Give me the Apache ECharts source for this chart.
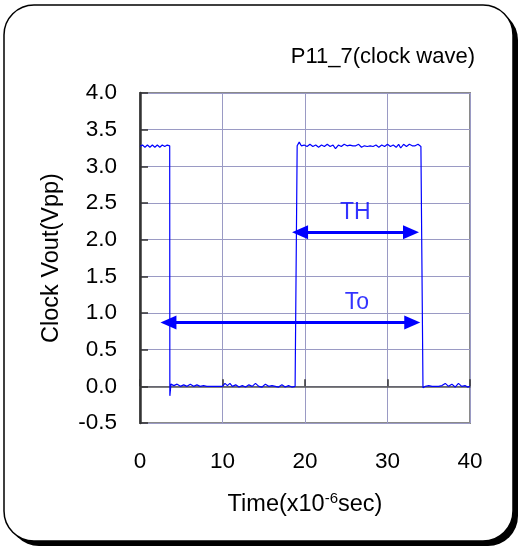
<!DOCTYPE html>
<html>
<head>
<meta charset="utf-8">
<script src="https://cdn.jsdelivr.net/npm/echarts@6/dist/echarts.min.js"></script>
<style>
  html, body { margin: 0; padding: 0; background: #fff; }
  #chart { width: 520px; height: 552px; }
</style>
</head>
<body>
<div id="chart"></div>
<script>
// waveform (time in us, volts)
var timeUs = [
  0, 0.3, 0.6, 0.9, 1.2, 1.5, 1.8, 2.1, 2.4, 2.7, 3.0, 3.3, 3.6,
  3.62, 3.75, 4.1, 4.5, 4.9, 5.3, 5.7, 6.1, 6.5, 6.9,
  7.3, 7.7, 8.1, 8.5, 9.0, 9.5, 10.0, 10.3, 10.6, 10.9,
  11.2, 11.6, 12.0, 12.4, 12.8, 13.2, 13.6, 14.0, 14.4, 14.8,
  15.2, 15.6, 16.0, 16.4, 16.8, 17.2, 17.6, 18.0, 18.4, 18.8, 19.0,
  19.05, 19.3, 19.55, 19.9, 20.25, 20.6, 20.95, 21.3, 21.65, 22.0,
  22.35, 22.7, 23.05, 23.4, 23.7, 24.05, 24.4, 24.75, 25.1, 25.45,
  25.8, 26.15, 26.5, 26.85, 27.2, 27.55, 27.9, 28.25, 28.6, 28.95,
  29.3, 29.65, 30.0, 30.35, 30.7, 31.05, 31.35, 31.6, 31.95, 32.3,
  32.65, 33.0, 33.35, 33.7, 34.05, 34.25, 34.3,
  34.6, 35.0, 35.4, 35.8, 36.2, 36.6, 37.0, 37.4, 37.8, 38.2,
  38.6, 39.0, 39.4, 39.7, 40.0
]
var voutV = [
  3.27, 3.29, 3.26, 3.29, 3.26, 3.29, 3.26, 3.29, 3.26, 3.29, 3.27, 3.29, 3.28,
  -0.13, 0.03, 0.01, 0.03, 0.0, 0.02, 0.0, 0.03, 0.0, 0.02,
  0.0, 0.01, 0.0, 0.0, 0.0, 0.0, 0.0, 0.04, 0.01, 0.04,
  0.0, 0.02, -0.01, 0.01, -0.01, 0.02, 0.0, 0.04, 0.0, -0.01,
  0.03, 0.0, 0.01, 0.0, -0.01, 0.02, -0.01, 0.01, -0.01, 0.0, 0.0,
  3.28, 3.33, 3.28, 3.29, 3.27, 3.30, 3.27, 3.29, 3.26, 3.29,
  3.27, 3.30, 3.27, 3.29, 3.24, 3.29, 3.27, 3.30, 3.28, 3.29,
  3.28, 3.28, 3.30, 3.26, 3.28, 3.27, 3.28, 3.27, 3.29, 3.26,
  3.29, 3.27, 3.30, 3.27, 3.29, 3.26, 3.30, 3.25, 3.30, 3.27,
  3.30, 3.28, 3.28, 3.30, 3.27, 3.27, -0.02,
  0.0, 0.01, 0.0, 0.0, 0.0, 0.01, 0.04, 0.0, 0.03, -0.01,
  0.04, 0.0, 0.01, -0.01, 0.0
]
// dimension arrows: [start time, end time, level] (shaft ends, heads sit outside)
var arrowTH = [19.4, 32.85, 2.1]
var arrowTo = [3.45, 33.0, 0.87]
// arrow captions: [time, level, text]
var captions = [[26.1, 2.1, 'TH'], [26.3, 0.87, 'To']]
var xTicks = [0, 10, 20, 30, 40]
var yTicks = [-0.5, 0, 0.5, 1, 1.5, 2, 2.5, 3, 3.5, 4]

var FONT = "'Liberation Sans', Arial, sans-serif"
var BLUE = '#0000ff'
var GRIDC = '#9a9ac4'

var wave = []
for (var i = 0; i < timeUs.length; i++) {
  wave.push([timeUs[i], voutV[i]])
}

var myChart = echarts.init(document.getElementById('chart'))
myChart.setOption({
  animation: false,
  textStyle: { fontFamily: FONT },
  graphic: [
    { type: 'rect', z: -2, shape: { x: 9, y: 10, width: 509, height: 536, r: 30 }, style: { fill: '#000' } },
    { type: 'rect', z: -1, shape: { x: 4, y: 5, width: 509, height: 536, r: 30 }, style: { fill: '#fff', stroke: '#000', lineWidth: 1.5 } },
    { type: 'text', z: 5, right: 45, top: 46, style: { text: 'P11_7(clock wave)', font: '22px ' + FONT, fill: '#000' } }
  ],
  grid: {
    left: 140, right: 50, top: 93, bottom: 129,
    show: true, borderColor: '#8a8a8a', borderWidth: 2, backgroundColor: 'transparent'
  },
  xAxis: [
    {
      type: 'value', min: xTicks[0], max: xTicks[xTicks.length - 1], interval: 10,
      position: 'bottom',
      axisLine: { show: false, onZero: false },
      axisTick: { show: false },
      axisLabel: { margin: 27, fontSize: 22.5, color: '#000' },
      splitLine: { show: true, lineStyle: { color: GRIDC, width: 1 } },
      name: 'Time(x10{sup|-6}sec)',
      nameLocation: 'middle', nameGap: 68,
      nameTextStyle: {
        fontSize: 23.5, color: '#000',
        rich: { sup: { fontSize: 15, color: '#000', padding: [0, 0, 12, 0] } }
      }
    },
    {
      type: 'value', min: xTicks[0], max: xTicks[xTicks.length - 1], interval: 10,
      position: 'bottom',
      axisLine: { show: true, onZero: true, lineStyle: { color: '#555', width: 1.5 } },
      axisTick: { show: true, inside: true, length: 7, lineStyle: { color: '#333', width: 1.5 } },
      axisLabel: { show: false },
      splitLine: { show: false }
    }
  ],
  yAxis: {
    type: 'value', min: yTicks[0], max: yTicks[yTicks.length - 1], interval: 0.5,
    axisLine: { show: true, onZero: false, lineStyle: { color: '#333', width: 2.5 } },
    axisTick: { show: true, inside: true, length: 8, lineStyle: { color: '#333', width: 1.5 } },
    axisLabel: { margin: 23, fontSize: 22.5, color: '#000', formatter: function (v) { return v.toFixed(1) } },
    splitLine: { show: true, lineStyle: { color: GRIDC, width: 1 } },
    name: 'Clock Vout(Vpp)',
    nameLocation: 'middle', nameGap: 76, nameRotate: 90,
    nameTextStyle: { fontSize: 23.5, color: '#000' }
  },
  series: [
    {
      type: 'line', name: 'Vout', data: wave, xAxisIndex: 0,
      showSymbol: false, symbol: 'none',
      lineStyle: { color: BLUE, width: 1.2 },
      z: 3
    },
    {
      type: 'line', name: 'dims', data: [], xAxisIndex: 0,
      markLine: {
        silent: true, symbol: ['triangle', 'triangle'], symbolSize: [14, 16], precision: 2,
        lineStyle: { color: BLUE, width: 3, type: 'solid' },
        label: { show: false },
        data: [
          [{ coord: [arrowTH[0], arrowTH[2]] }, { coord: [arrowTH[1], arrowTH[2]] }],
          [{ coord: [arrowTo[0], arrowTo[2]] }, { coord: [arrowTo[1], arrowTo[2]] }]
        ]
      },
      z: 4
    },
    {
      type: 'scatter', name: 'captions', xAxisIndex: 0,
      data: captions, symbolSize: 0,
      label: {
        show: true, position: 'top', distance: 8, color: BLUE, fontSize: 23,
        formatter: function (p) { return p.data[2] }
      },
      z: 5
    }
  ]
})
</script>
</body>
</html>
